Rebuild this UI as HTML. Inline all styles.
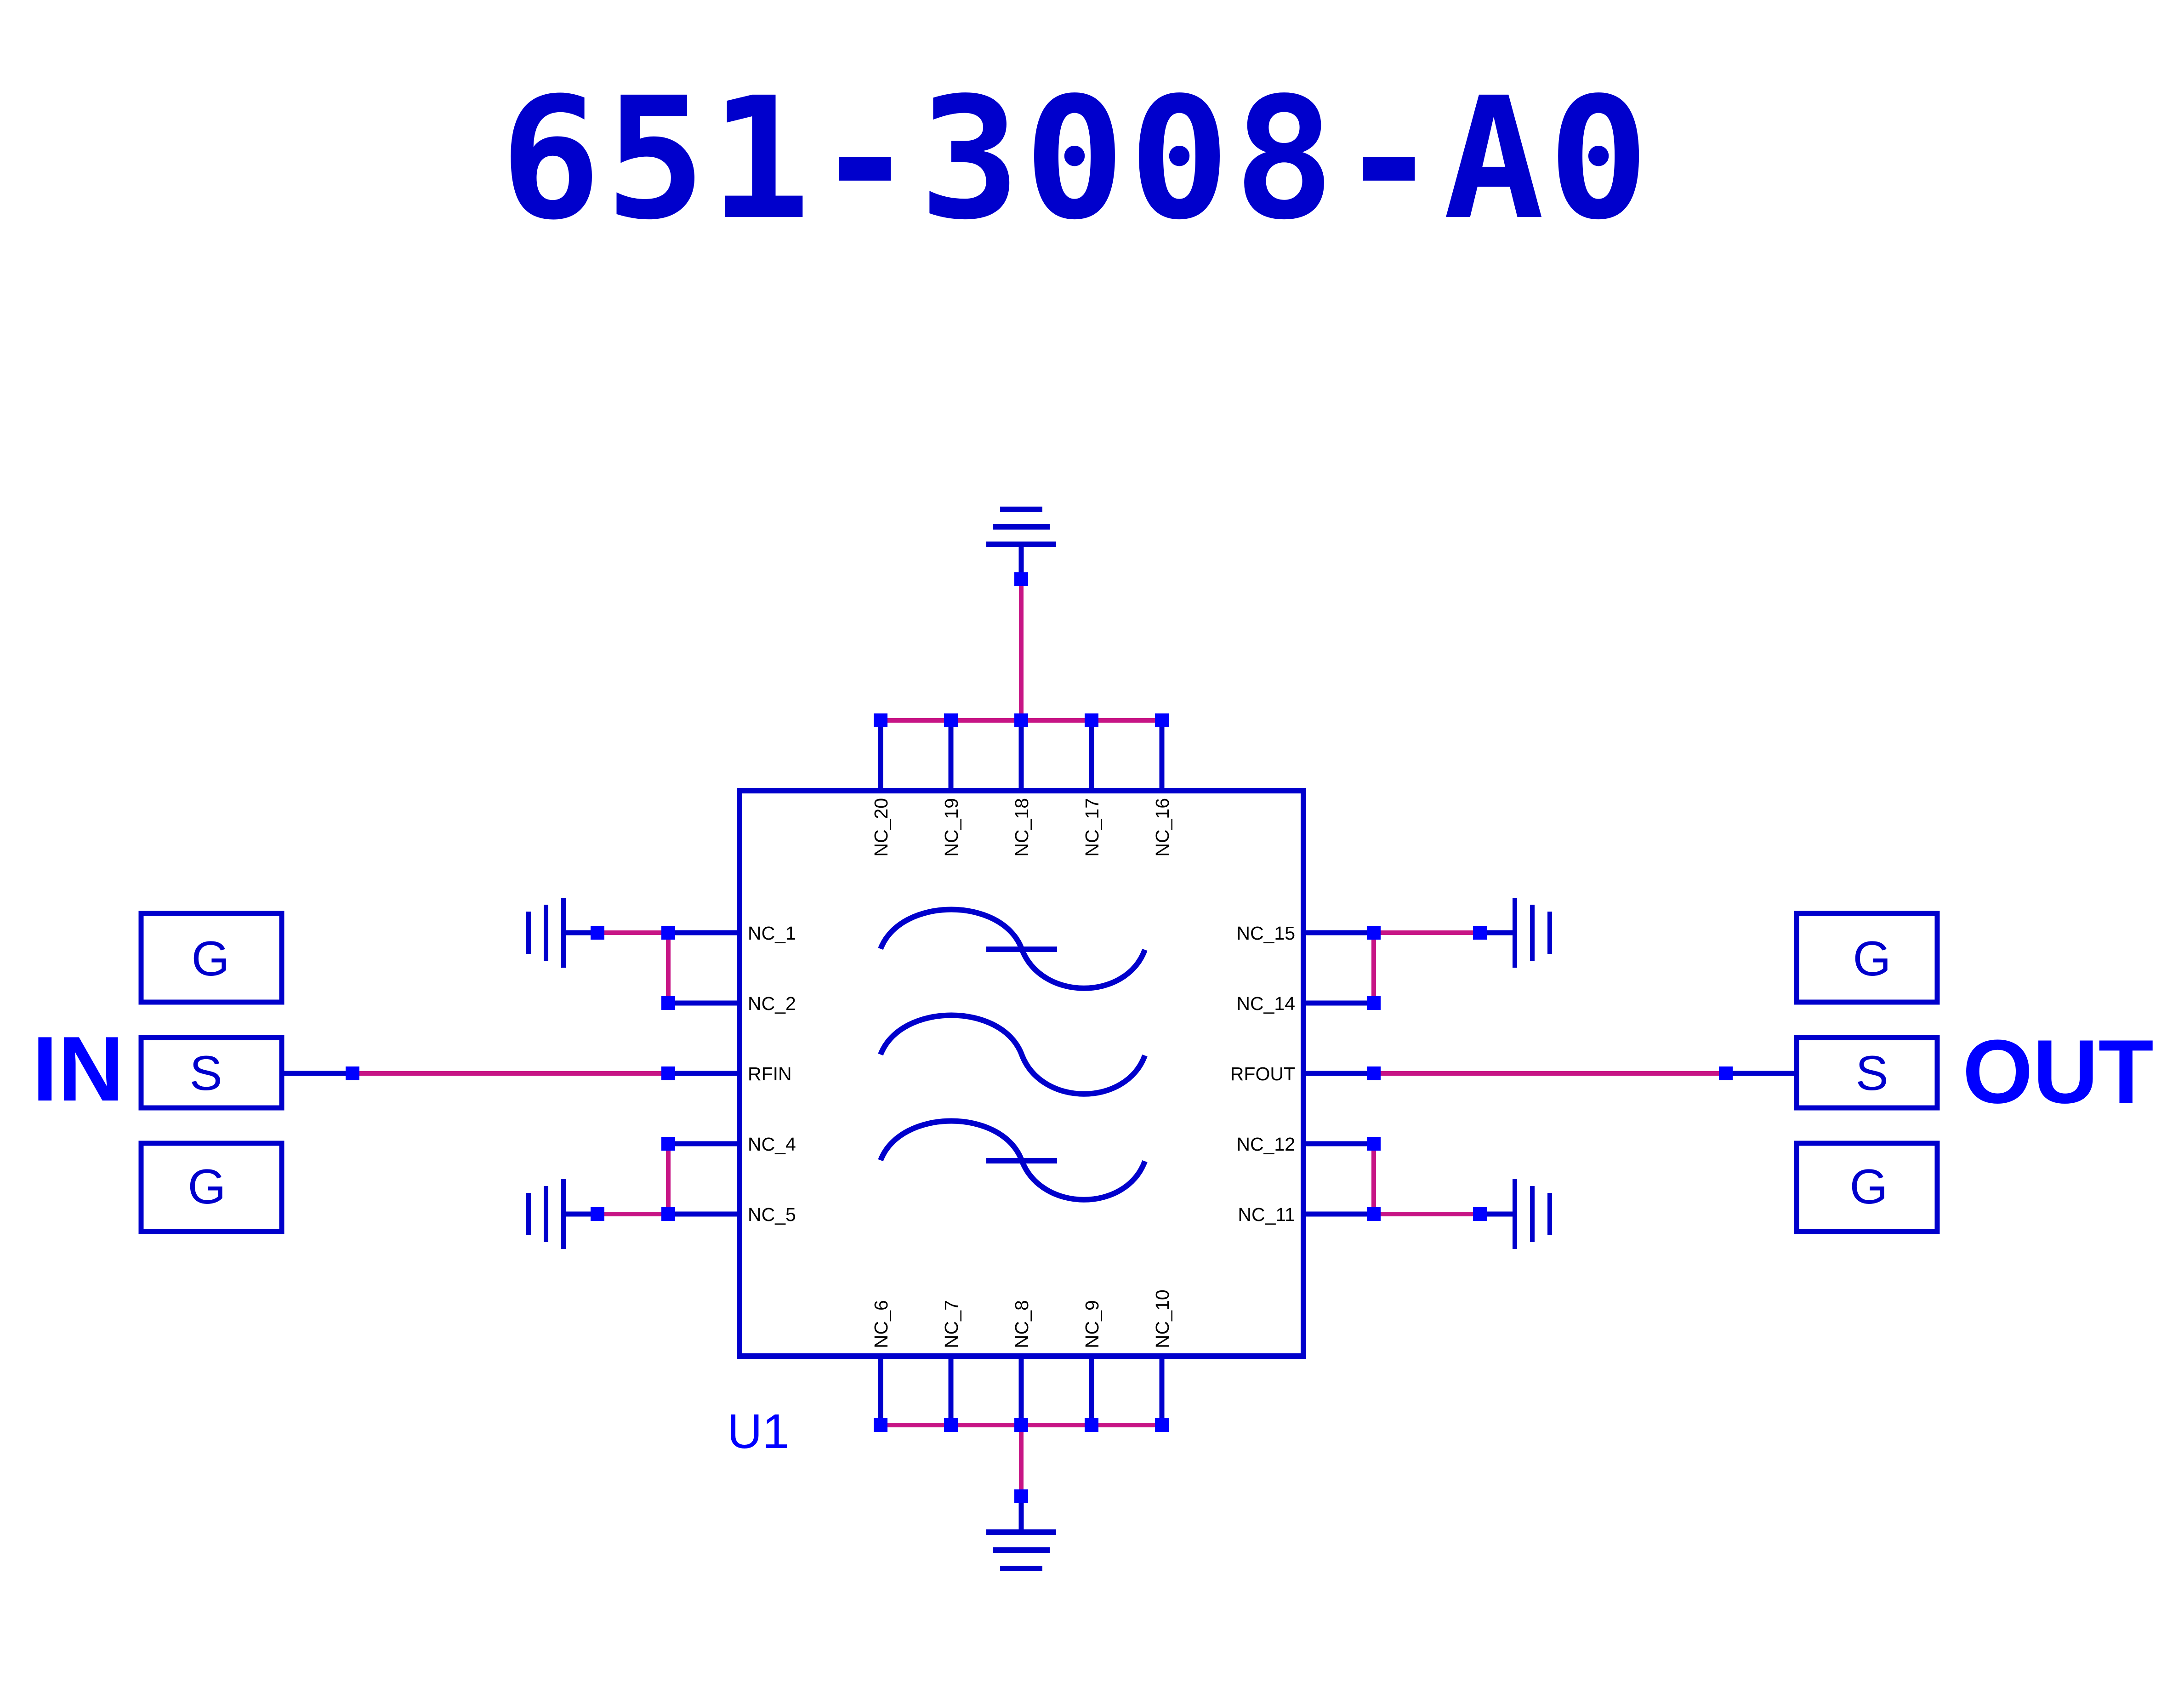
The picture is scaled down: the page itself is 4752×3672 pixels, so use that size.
<!DOCTYPE html>
<html><head><meta charset="utf-8"><style>
html,body{margin:0;padding:0;background:#fff;}
svg{display:block;}
</style></head><body>
<svg width="4752" height="3672" viewBox="0 0 4752 3672" xmlns="http://www.w3.org/2000/svg">
<rect width="4752" height="3672" fill="#fff"/>
<text x="2338" y="472" text-anchor="middle" font-family="'DejaVu Sans Mono','Liberation Mono',monospace" font-weight="bold" font-size="365" fill="#0000CC" textLength="2500" lengthAdjust="spacing">651-3008-A0</text>

<g stroke="#0000CC" stroke-width="11" fill="none">
  <rect x="1609" y="1720" width="1227" height="1230" stroke-width="12"/>
  <path d="M1916 1567V1720M2069 1567V1720M2222 1567V1720M2375 1567V1720M2528 1567V1720"/>
  <path d="M1916 2950V3100M2069 2950V3100M2222 2950V3100M2375 2950V3100M2528 2950V3100"/>
  <path d="M1454 2029H1609M1454 2182H1609M1454 2335H1609M1454 2488H1609M1454 2641H1609"/>
  <path d="M2836 2029H2989M2836 2182H2989M2836 2335H2989M2836 2488H2989M2836 2641H2989"/>
  <path d="M2222 1260V1184"/>
  <path d="M2146 1184H2298M2160 1146H2284M2176 1108H2268" stroke-width="12"/>
  <path d="M2222 3255V3333"/>
  <path d="M2146 3333H2298M2160 3372H2284M2176 3412H2268" stroke-width="12"/>
  <path d="M1300 2029H1226M1300 2641H1226"/>
  <path d="M1226 1953V2105M1188 1968V2090M1150 1983V2075" stroke-width="10"/>
  <path d="M1226 2565V2717M1188 2580V2702M1150 2595V2687" stroke-width="10"/>
  <path d="M3220 2029H3296M3220 2641H3296"/>
  <path d="M3296 1953V2105M3334 1968V2090M3372 1983V2075" stroke-width="10"/>
  <path d="M3296 2565V2717M3334 2580V2702M3372 2595V2687" stroke-width="10"/>
  <path d="M612 2335H767M3755 2335H3908"/>
  <rect x="307" y="1987" width="306" height="193"/>
  <rect x="307" y="2257" width="306" height="153"/>
  <rect x="307" y="2487" width="306" height="192"/>
  <rect x="3909" y="1987" width="306" height="193"/>
  <rect x="3909" y="2257" width="306" height="153"/>
  <rect x="3909" y="2487" width="306" height="192"/>
  <g stroke-width="12">
    <path d="M1916 2064C1960 1950 2180 1950 2223 2064C2266 2178 2450 2178 2491 2066"/>
    <path d="M1916 2294C1960 2180 2180 2180 2223 2294C2266 2408 2450 2408 2491 2296"/>
    <path d="M1916 2524C1960 2410 2180 2410 2223 2524C2266 2638 2450 2638 2491 2526"/>
    <path d="M2146 2065H2300M2146 2525H2300"/>
  </g>
</g>

<g stroke="#C71585" stroke-width="10" fill="none">
  <path d="M1916 1567H2528M2222 1567V1260"/>
  <path d="M1916 3100H2528M2222 3100V3255"/>
  <path d="M1300 2029H1454V2182M1454 2488V2641H1300"/>
  <path d="M3220 2029H2989V2182M2989 2488V2641H3220"/>
  <path d="M767 2335H1454M2989 2335H3755"/>
</g>

<g fill="#0000FF">
  <rect x="1901" y="1552" width="30" height="30"/><rect x="2054" y="1552" width="30" height="30"/><rect x="2207" y="1552" width="30" height="30"/><rect x="2360" y="1552" width="30" height="30"/><rect x="2513" y="1552" width="30" height="30"/>
  <rect x="2207" y="1245" width="30" height="30"/>
  <rect x="1901" y="3085" width="30" height="30"/><rect x="2054" y="3085" width="30" height="30"/><rect x="2207" y="3085" width="30" height="30"/><rect x="2360" y="3085" width="30" height="30"/><rect x="2513" y="3085" width="30" height="30"/>
  <rect x="2207" y="3240" width="30" height="30"/>
  <rect x="1439" y="2014" width="30" height="30"/><rect x="1439" y="2167" width="30" height="30"/><rect x="1439" y="2320" width="30" height="30"/><rect x="1439" y="2473" width="30" height="30"/><rect x="1439" y="2626" width="30" height="30"/>
  <rect x="1285" y="2014" width="30" height="30"/><rect x="1285" y="2626" width="30" height="30"/>
  <rect x="752" y="2320" width="30" height="30"/>
  <rect x="2974" y="2014" width="30" height="30"/><rect x="2974" y="2167" width="30" height="30"/><rect x="2974" y="2320" width="30" height="30"/><rect x="2974" y="2473" width="30" height="30"/><rect x="2974" y="2626" width="30" height="30"/>
  <rect x="3205" y="2014" width="30" height="30"/><rect x="3205" y="2626" width="30" height="30"/>
  <rect x="3740" y="2320" width="30" height="30"/>
</g>

<g font-family="'Liberation Sans',sans-serif" font-size="41" fill="#000">
  <text x="1627" y="2044">NC_1</text>
  <text x="1627" y="2197">NC_2</text>
  <text x="1627" y="2350">RFIN</text>
  <text x="1627" y="2503">NC_4</text>
  <text x="1627" y="2656">NC_5</text>
  <text x="2818" y="2044" text-anchor="end">NC_15</text>
  <text x="2818" y="2197" text-anchor="end">NC_14</text>
  <text x="2818" y="2350" text-anchor="end">RFOUT</text>
  <text x="2818" y="2503" text-anchor="end">NC_12</text>
  <text x="2818" y="2656" text-anchor="end">NC_11</text>
  <text transform="translate(1931 1736) rotate(-90)" text-anchor="end">NC_20</text>
  <text transform="translate(2084 1736) rotate(-90)" text-anchor="end">NC_19</text>
  <text transform="translate(2237 1736) rotate(-90)" text-anchor="end">NC_18</text>
  <text transform="translate(2390 1736) rotate(-90)" text-anchor="end">NC_17</text>
  <text transform="translate(2543 1736) rotate(-90)" text-anchor="end">NC_16</text>
  <text transform="translate(1931 2933) rotate(-90)">NC_6</text>
  <text transform="translate(2084 2933) rotate(-90)">NC_7</text>
  <text transform="translate(2237 2933) rotate(-90)">NC_8</text>
  <text transform="translate(2390 2933) rotate(-90)">NC_9</text>
  <text transform="translate(2543 2933) rotate(-90)">NC_10</text>
</g>

<g font-family="'Liberation Sans',sans-serif" font-size="107" fill="#0000CC" text-anchor="middle">
  <text x="458" y="2122">G</text>
  <text x="448" y="2371">S</text>
  <text x="450" y="2618">G</text>
  <text x="4073" y="2122">G</text>
  <text x="4073" y="2371">S</text>
  <text x="4066" y="2618">G</text>
</g>

<text x="1582" y="3150" font-family="'Liberation Sans',sans-serif" font-size="106" fill="#0000FF">U1</text>
<text x="70" y="2394" font-family="'Liberation Sans',sans-serif" font-weight="bold" font-size="200" fill="#0000FF">IN</text>
<text x="4270" y="2399" font-family="'Liberation Sans',sans-serif" font-weight="bold" font-size="197" fill="#0000FF">OUT</text>
</svg>
</body></html>
